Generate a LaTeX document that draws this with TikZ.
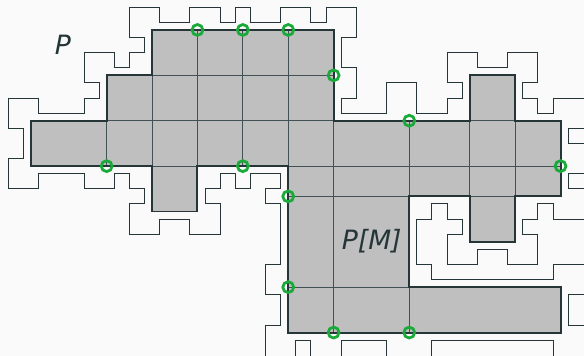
\documentclass[tikz,border=0pt]{standalone}
\usepackage{fontspec}
\setmainfont{DejaVu Sans}
\usetikzlibrary{calc}

\begin{document}
\begin{tikzpicture}[x=0.5cm,y=-0.5cm]
  \definecolor{outline}{RGB}{38,54,56}
  \definecolor{cellfill}{RGB}{191,191,191}
  \definecolor{gridline}{RGB}{66,82,84}
  \definecolor{hitgreen}{RGB}{26,170,58}
  \definecolor{paper}{RGB}{250,250,250}
  \tikzset{
    polyline/.style={outline, line width=0.85pt, line join=miter},
    hitmark/.style={hitgreen, line width=2.6pt},
    setlabel/.style={text=outline, anchor=base, inner sep=0pt,
      font=\fontsize{25}{30}\selectfont\itshape}
  }
  \def\xmin{-2.05}
  \def\xmax{36.55}
  \def\ymin{-1.98}
  \def\ymax{21.55}
  \useasboundingbox (\xmin,\ymin) rectangle (\xmax,\ymax);
  \clip (\xmin,\ymin) rectangle (\xmax,\ymax);
  \fill[paper] (\xmin,\ymin) rectangle (\xmax,\ymax);
  % boundary of P (leaves the frame on the right and at the bottom)
  \draw[polyline] (-1.5,4.5) -- (0.5,4.5) -- (0.5,5.5) -- (3.5,5.5) -- (3.5,4.5) -- (4.5,4.5) -- (4.5,3.5) -- (3.5,3.5)
    -- (3.5,1.5) -- (5.5,1.5) -- (5.5,2.5) -- (6.5,2.5) -- (6.5,1.5) -- (7.5,1.5) -- (7.5,0.5) -- (6.5,0.5)
    -- (6.5,-1.5) -- (8.5,-1.5) -- (8.5,-0.5) -- (10.5,-0.5) -- (10.5,-1.5) -- (12.5,-1.5) -- (12.5,-0.5) -- (13.5,-0.5)
    -- (13.5,-1.5) -- (14.5,-1.5) -- (14.5,-0.5) -- (16.5,-0.5) -- (16.5,-1.5) -- (18.5,-1.5) -- (18.5,-0.5) -- (19.5,-0.5)
    -- (19.5,-1.5) -- (21.5,-1.5) -- (21.5,0.5) -- (20.5,0.5) -- (20.5,2.5) -- (21.5,2.5) -- (21.5,4.5) -- (20.5,4.5)
    -- (20.5,5.5) -- (23.5,5.5) -- (23.5,3.5) -- (25.5,3.5) -- (25.5,5.5) -- (27.5,5.5) -- (27.5,4.5) -- (28.5,4.5)
    -- (28.5,3.5) -- (27.5,3.5) -- (27.5,1.5) -- (29.5,1.5) -- (29.5,2.5) -- (31.5,2.5) -- (31.5,1.5) -- (33.5,1.5)
    -- (33.5,3.5) -- (32.5,3.5) -- (32.5,4.5) -- (33.5,4.5) -- (33.5,5.5) -- (34.5,5.5) -- (34.5,4.5) -- (37.5,4.5)
    -- (37.5,6.5) -- (35.5,6.5) -- (35.5,7.5) -- (37.5,7.5) -- (37.5,9.5) -- (35.5,9.5) -- (35.5,10.5) -- (37.5,10.5)
    -- (37.5,12.5) -- (34.5,12.5) -- (34.5,11.5) -- (33.5,11.5) -- (33.5,12.5) -- (32.5,12.5) -- (32.5,13.5) -- (33.5,13.5)
    -- (33.5,15.5) -- (31.5,15.5) -- (31.5,14.5) -- (29.5,14.5) -- (29.5,15.5) -- (27.5,15.5) -- (27.5,13.5) -- (28.5,13.5)
    -- (28.5,12.5) -- (27.5,12.5) -- (27.5,11.5) -- (26.5,11.5) -- (26.5,12.5) -- (25.5,12.5) -- (25.5,15.5) -- (26.5,15.5)
    -- (26.5,16.5) -- (34.5,16.5) -- (34.5,15.5) -- (37.5,15.5) -- (37.5,17.5) -- (35.5,17.5) -- (35.5,19.5) -- (37.5,19.5)
    -- (37.5,22.5) -- (34.5,22.5) -- (34.5,20.5) -- (26.5,20.5) -- (26.5,22.5) -- (23.5,22.5) -- (23.5,20.5) -- (20.5,20.5)
    -- (20.5,22.5) -- (18.5,22.5) -- (18.5,20.5) -- (17.5,20.5) -- (17.5,22.5) -- (15.5,22.5) -- (15.5,19.5) -- (16.5,19.5)
    -- (16.5,17.5) -- (15.5,17.5) -- (15.5,15.5) -- (16.5,15.5) -- (16.5,11.5) -- (15.5,11.5) -- (15.5,10.5) -- (16.5,10.5)
    -- (16.5,9.5) -- (14.5,9.5) -- (14.5,10.5) -- (13.5,10.5) -- (13.5,9.5) -- (12.5,9.5) -- (12.5,10.5) -- (11.5,10.5)
    -- (11.5,11.5) -- (12.5,11.5) -- (12.5,13.5) -- (10.5,13.5) -- (10.5,12.5) -- (8.5,12.5) -- (8.5,13.5) -- (6.5,13.5)
    -- (6.5,11.5) -- (7.5,11.5) -- (7.5,10.5) -- (6.5,10.5) -- (6.5,9.5) -- (5.5,9.5) -- (5.5,10.5) -- (3.5,10.5)
    -- (3.5,9.5) -- (0.5,9.5) -- (0.5,10.5) -- (-1.5,10.5) -- (-1.5,8.5) -- (-0.5,8.5) -- (-0.5,6.5) -- (-1.5,6.5) -- cycle;
  % P[M]
  \fill[cellfill] (0,6) -- (5,6) -- (5,3) -- (8,3) -- (8,0) -- (20,0) -- (20,6) -- (29,6) -- (29,3) -- (32,3)
    -- (32,6) -- (35,6) -- (35,11) -- (32,11) -- (32,14) -- (29,14) -- (29,11) -- (25,11) -- (25,17) -- (35,17)
    -- (35,20) -- (17,20) -- (17,9) -- (11,9) -- (11,12) -- (8,12) -- (8,9) -- (0,9) -- cycle;
  \foreach \x/\ya/\yb in {5/6/9, 8/3/9, 11/0/9, 14/0/9, 17/0/9, 20/6/20, 25/6/11, 25/17/20, 29/6/11, 32/6/11}
    \draw[gridline, line width=0.85pt] (\x,\ya) -- (\x,\yb);
  \foreach \y/\xa/\xb in {3/8/20, 6/5/20, 6/29/32, 9/8/11, 9/17/35, 11/17/25, 11/29/32, 17/17/25}
    \draw[gridline, line width=0.85pt] (\xa,\y) -- (\xb,\y);
  \draw[outline, line width=1.8pt, line join=miter] (0,6) -- (5,6) -- (5,3) -- (8,3) -- (8,0) -- (20,0) -- (20,6)
    -- (29,6) -- (29,3) -- (32,3) -- (32,6) -- (35,6) -- (35,11) -- (32,11) -- (32,14) -- (29,14) -- (29,11)
    -- (25,11) -- (25,17) -- (35,17) -- (35,20) -- (17,20) -- (17,9) -- (11,9) -- (11,12) -- (8,12) -- (8,9)
    -- (0,9) -- cycle;
  % marked grid points
  \foreach \x/\y in {11/0, 14/0, 17/0, 20/3, 25/6, 35/9, 5/9, 14/9, 17/11, 17/17, 20/20, 25/20}
    \draw[hitmark] (\x,\y) circle (0.36);
  \node[setlabel] (labelP) at (2.1,1.65) {P};
  \node[setlabel] (labelPM) at (22.52,14.54) {P[M]};
\end{tikzpicture}
\end{document}
